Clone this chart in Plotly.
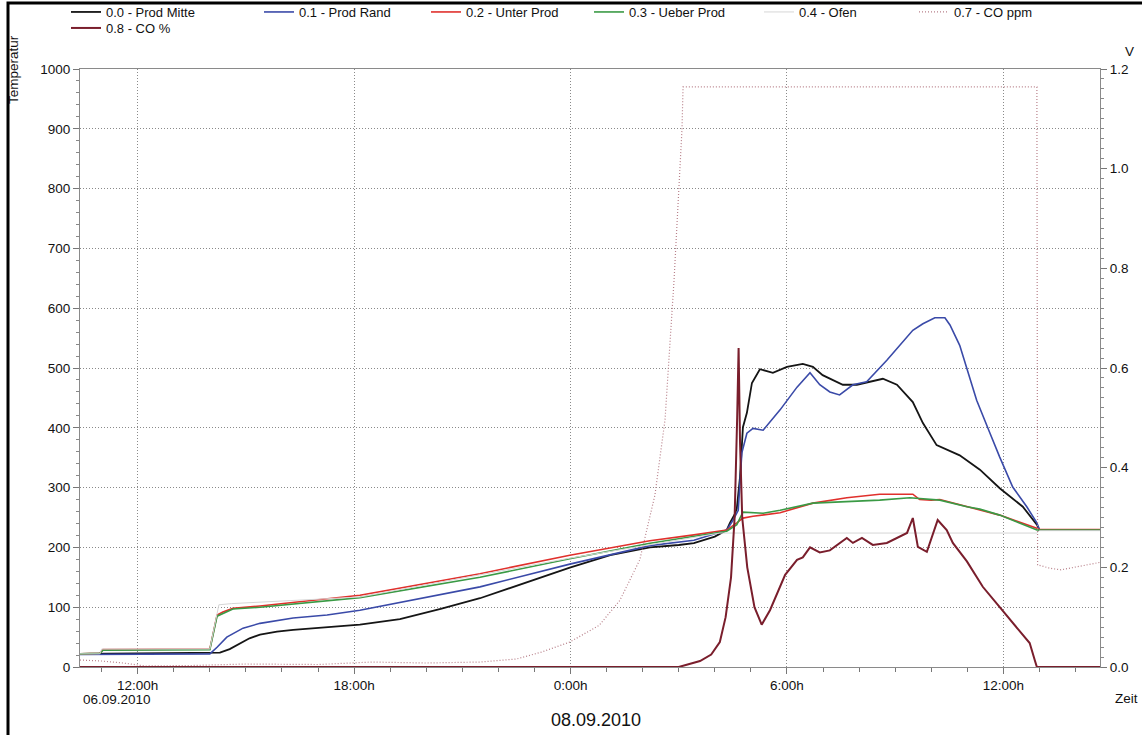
import plotly.graph_objects as go

# Time axis in hours counted from 06.09.2010 00:00 (12 = 12:00h, 24 = 0:00h, 36 = 12:00h next day)
tick_hours = [12, 18, 24, 30, 36]
tick_labels = ["12:00h", "18:00h", "0:00h", "6:00h", "12:00h"]

# 0.0 - Prod Mitte (°C)
mitte_t = [10.40, 12.0, 14.0, 14.28, 14.55, 14.84, 15.1, 15.39, 15.86, 16.31, 17.25, 18.16, 19.27, 20.4,
           21.49, 22.7, 23.98, 25.1, 26.2, 27.0, 27.42, 28.0, 28.33, 28.42, 28.55, 28.61, 28.70, 28.78,
           28.89, 29.03, 29.25, 29.61, 30.0, 30.44, 30.72, 30.99, 31.55, 31.94, 32.66, 33.05, 33.49,
           33.77, 34.15, 34.79, 35.15, 35.35, 35.90, 36.54, 36.93, 37.0, 38.68]
mitte_v = [22, 23, 24, 24, 30, 40, 48, 54, 59, 62, 67, 71, 80, 97,
           115, 140, 166, 187, 200, 204, 207, 218, 229, 241, 255, 265, 318, 401,
           425, 475, 498, 492, 502, 507, 502, 488, 472, 472, 482, 472, 443,
           408, 371, 354, 338, 330, 299, 268, 238, 229, 229]

# 0.1 - Prod Rand (°C)
rand_t = [10.40, 14.0, 14.20, 14.47, 14.92, 15.39, 16.31, 17.25, 18.16, 19.8, 21.49, 23.98, 26.2, 27.42,
          28.33, 28.5, 28.65, 28.75, 28.89, 29.06, 29.34, 29.81, 30.28, 30.64, 30.91, 31.19, 31.46, 31.83,
          32.21, 32.77, 33.33, 33.49, 33.77, 34.10, 34.38, 34.52, 34.79, 35.26, 35.63, 35.90, 36.26, 36.65,
          36.93, 37.0, 38.68]
rand_v = [21, 22, 33, 50, 65, 73, 82, 87, 95, 114, 134, 172, 203, 212,
          229, 245, 262, 358, 391, 399, 396, 430, 468, 492, 472, 460, 455, 472,
          477, 513, 552, 563, 574, 584, 584, 572, 538, 446, 391, 351, 301, 268,
          241, 230, 229]

# 0.2 - Unter Prod (°C)
unter_t = [10.40, 10.95, 11.04, 14.0, 14.20, 14.36, 14.64, 15.39, 18.16, 21.49, 23.98, 26.2, 27.42, 28.33,
           28.61, 28.78, 29.06, 29.81, 30.72, 31.66, 32.57, 33.49, 33.68, 34.0, 34.24, 34.99, 35.35,
           35.90, 36.93, 37.0, 38.68]
unter_v = [22, 23, 29, 30, 87, 92, 98, 102, 120, 156, 187, 211, 221, 229,
           241, 249, 252, 258, 274, 283, 289, 289, 280, 279, 280, 268, 262,
           254, 232, 230, 230]

# 0.3 - Ueber Prod (°C)
ueber_t = [10.40, 10.95, 11.04, 14.0, 14.20, 14.64, 15.39, 18.16, 21.49, 23.98, 26.2, 27.42, 28.33, 28.61,
           28.78, 29.34, 29.81, 30.72, 31.46, 32.57, 33.41, 34.24, 34.99, 35.35, 35.90, 36.93, 38.68]
ueber_v = [22, 23, 28, 29, 85, 97, 100, 116, 150, 181, 207, 218, 227, 238,
           259, 257, 262, 274, 276, 279, 283, 279, 268, 264, 254, 229, 229]

# 0.4 - Ofen (°C)
ofen_t = [10.40, 10.95, 11.0, 14.0, 14.25, 14.6, 18.16, 23.98, 28.14, 36.93, 37.0, 38.68]
ofen_v = [22, 22, 30, 30, 104, 106, 117, 182, 224, 224, 228, 228]

# 0.7 - CO ppm (V)
coppm_t = [10.40, 11.0, 11.6, 12.2, 13.5, 15.0, 17.0, 18.5, 20.0, 21.49, 22.5, 23.2, 23.98, 24.8, 25.37,
           25.92, 26.34, 26.62, 26.87, 26.92, 27.0, 27.09, 27.12, 36.93, 36.95, 37.3, 37.6, 38.0, 38.68]
coppm_v = [0.014, 0.012, 0.008, 0.002, 0.003, 0.006, 0.005, 0.01, 0.008, 0.01, 0.016, 0.03, 0.05, 0.084, 0.134,
           0.215, 0.345, 0.496, 0.776, 0.843, 0.957, 1.078, 1.164, 1.164, 0.205, 0.198, 0.195, 0.2, 0.21]

# 0.8 - CO % (V)
copct_t = [10.40, 27.0, 27.59, 27.9, 28.14, 28.3, 28.45, 28.55, 28.62, 28.66, 28.70, 28.76, 28.9, 29.1, 29.3,
           29.53, 29.95, 30.28, 30.44, 30.64, 30.91, 31.19, 31.66, 31.83, 32.08, 32.38, 32.77, 33.33, 33.49,
           33.63, 33.88, 34.18, 34.43, 34.60, 34.99, 35.43, 35.90, 36.37, 36.73, 36.87, 36.93, 38.68]
copct_v = [0.0, 0.0, 0.012, 0.025, 0.05, 0.1, 0.18, 0.3, 0.5, 0.64, 0.45, 0.3, 0.2, 0.12, 0.085,
           0.114, 0.185, 0.215, 0.22, 0.24, 0.23, 0.234, 0.259, 0.249, 0.259, 0.245, 0.249, 0.269, 0.299,
           0.241, 0.231, 0.295, 0.275, 0.249, 0.212, 0.161, 0.120, 0.080, 0.048, 0.014, 0.0, 0.0]

FONT = "Liberation Sans, Arial, sans-serif"

# Plot area in pixels: x 80..1100, y 69..667
def px_x(p):
    return (p - 80) / 1020

def px_y(p):
    return (667 - p) / 598

# (name, x, y, axis, colour, width, dash, legend text start x, legend row centre y)
series = [
    ("0.0 - Prod Mitte", mitte_t, mitte_v, "y", "#151515", 1.8, "solid", 107, 12),
    ("0.1 - Prod Rand", rand_t, rand_v, "y", "#3a4aa8", 1.6, "solid", 300, 12),
    ("0.2 - Unter Prod", unter_t, unter_v, "y", "#e0302c", 1.6, "solid", 467, 12),
    ("0.3 - Ueber Prod", ueber_t, ueber_v, "y", "#3a9a45", 1.6, "solid", 630, 12),
    ("0.4 - Ofen", ofen_t, ofen_v, "y", "#d6d6d6", 1.0, "solid", 800, 12),
    ("0.7 - CO ppm", coppm_t, coppm_v, "y2", "#b8808a", 1.2, "1px,2px", 955, 12),
    ("0.8 - CO %", copct_t, copct_v, "y2", "#7a1e2c", 2.0, "solid", 107, 28),
]

fig = go.Figure()
legend_layouts = {}
for i, (name, xs, ys, ax, color, width, dash, lx, ly) in enumerate(series):
    key = "legend" if i == 0 else f"legend{i + 1}"
    fig.add_trace(go.Scatter(x=xs, y=ys, name=name, mode="lines", yaxis=ax, legend=key,
                             line=dict(color=color, width=width, dash=dash)))
    legend_layouts[key] = dict(x=px_x(lx - 41), xanchor="left", y=px_y(ly), yanchor="middle",
                               orientation="h", itemwidth=30, bgcolor="rgba(0,0,0,0)",
                               font=dict(family=FONT, size=13, color="#111"))

axis_font = dict(family=FONT, size=13.5, color="#111")
grid_dash = "1px,2px"

fig.update_layout(
    width=1142, height=735,
    margin=dict(l=80, r=42, t=69, b=68, autoexpand=False),
    paper_bgcolor="white", plot_bgcolor="white",
    font=dict(family=FONT, size=13, color="#111"),
    showlegend=True,
    xaxis=dict(range=[10.40, 38.68], tickmode="array", tickvals=tick_hours, ticktext=tick_labels,
               ticks="outside", ticklen=6, tickcolor="#777", tickfont=axis_font,
               showgrid=True, gridcolor="#8a8a8a", griddash=grid_dash, gridwidth=1,
               showline=True, linecolor="#8a8a8a", linewidth=1, mirror=True, zeroline=False,
               minor=dict(tickmode="linear", tick0=0, dtick=1, ticks="outside", ticklen=4,
                          tickcolor="#777", showgrid=False)),
    yaxis=dict(range=[0, 1000], dtick=100, ticks="outside", ticklen=6, tickcolor="#777",
               tickfont=axis_font, showgrid=True, gridcolor="#8a8a8a", griddash=grid_dash, gridwidth=1,
               showline=True, linecolor="#8a8a8a", linewidth=1, zeroline=False,
               minor=dict(dtick=20, ticks="outside", ticklen=3, tickcolor="#888", showgrid=False)),
    yaxis2=dict(range=[0, 1.2], dtick=0.2, tickformat=".1f", overlaying="y", side="right",
                ticks="outside", ticklen=6, tickcolor="#777", tickfont=axis_font,
                showgrid=False, showline=True, linecolor="#8a8a8a", linewidth=1, zeroline=False,
                minor=dict(dtick=0.02, ticks="outside", ticklen=3, tickcolor="#888", showgrid=False)),
    **legend_layouts,
)

# Outer frame of the printout
fig.add_shape(type="rect", xref="paper", yref="paper",
              x0=px_x(8), x1=px_x(1160), y0=px_y(750), y1=px_y(3),
              line=dict(color="black", width=3), fillcolor="rgba(0,0,0,0)", layer="above")

annotations = [
    ("Temperatur", 13, 70, -90, 13.5, "center"),
    ("V", 1129, 51, 0, 13.5, "center"),
    ("Zeit", 1126, 698, 0, 13.5, "center"),
    ("06.09.2010", 81, 699, 0, 13.5, "left"),
    ("08.09.2010", 596, 720, 0, 18, "center"),
]
for text, ax_px, ay_px, angle, size, xanchor in annotations:
    fig.add_annotation(xref="paper", yref="paper", x=px_x(ax_px), y=px_y(ay_px), text=text,
                       textangle=angle, showarrow=False, xanchor=xanchor, yanchor="middle",
                       font=dict(family=FONT, color="#111", size=size))

fig.write_html("out.html")
